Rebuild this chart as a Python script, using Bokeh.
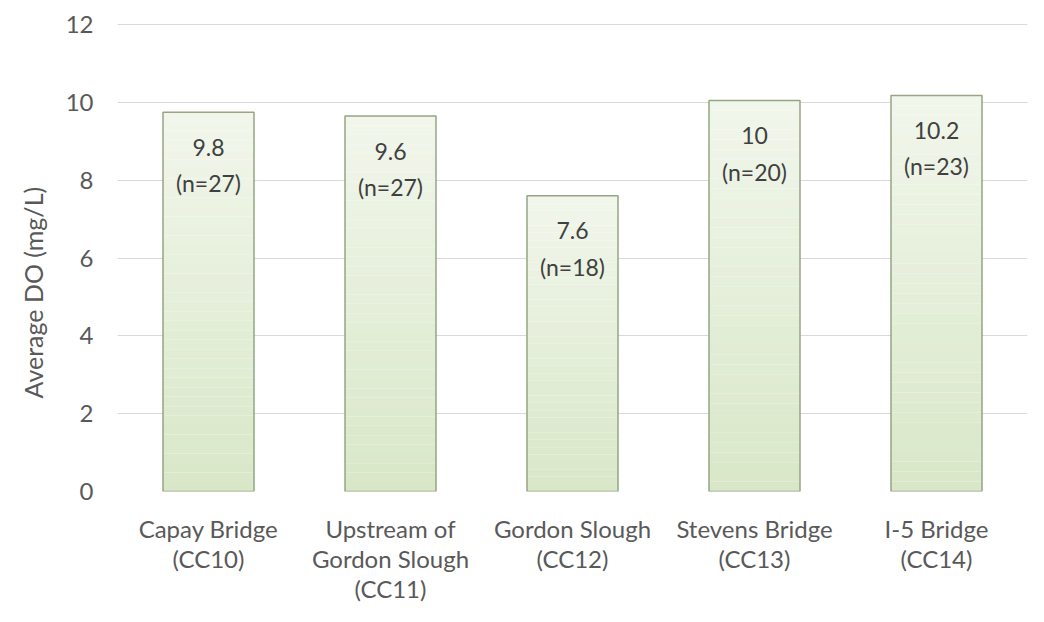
from bokeh.plotting import figure
from bokeh.models import ColumnDataSource, FixedTicker, Range1d, Title
from bokeh.core.properties import value
from bokeh.embed import file_html
from bokeh.resources import INLINE

categories = ["Capay Bridge\n(CC10)", "Upstream of\nGordon Slough\n(CC11)",
              "Gordon Slough\n(CC12)", "Stevens Bridge\n(CC13)", "I-5 Bridge\n(CC14)"]
avg_do = [9.75, 9.65, 7.6, 10.05, 10.18]
value_labels = ["9.8", "9.6", "7.6", "10", "10.2"]
n_samples = [27, 27, 18, 20, 23]
y_ticks = [0, 2, 4, 6, 8, 10, 12]
y_title = "Average DO (mg/L)"

FONT = "Lato"

p = figure(x_range=categories, y_range=Range1d(0, 12.03), width=1028, height=606,
           output_backend="svg", toolbar_location=None,
           min_border_left=117, min_border_right=1, min_border_top=23, min_border_bottom=110)
p.outline_line_color = None

# gradient fill via slices (top lighter, bottom darker)
N = 40
top_c = (0xF1, 0xF6, 0xEB)
bot_c = (0xD9, 0xE7, 0xC8)
xs, bots, tops, cols = [], [], [], []
for cat, v in zip(categories, avg_do):
    for k in range(N):
        t = k / (N - 1)
        r = [round(bot_c[i] + (top_c[i] - bot_c[i]) * t) for i in range(3)]
        xs.append(cat)
        bots.append(v * k / N)
        tops.append(v * (k + 1) / N)
        cols.append("#%02x%02x%02x" % tuple(r))
p.vbar(x=xs, bottom=bots, top=tops, width=0.5, fill_color=cols, line_color=None)
p.vbar(x=categories, top=avg_do, width=0.5, fill_color=None,
       line_color="#95a585", line_width=1.5)

src = ColumnDataSource(dict(x=categories, y=avg_do, v=value_labels,
                            n=["(n=%d)" % n for n in n_samples]))
p.text(x="x", y="y", text="v", source=src, y_offset=35, text_align="center",
       text_baseline="middle", text_font=value(FONT), text_font_size="23px",
       text_color="#404040")
p.text(x="x", y="y", text="n", source=src, y_offset=71, text_align="center",
       text_baseline="middle", text_font=value(FONT), text_font_size="23px",
       text_color="#404040")

p.yaxis.ticker = FixedTicker(ticks=y_ticks)
p.ygrid.grid_line_color = "#d9d9d9"
p.ygrid.grid_line_width = 1.2
p.xgrid.grid_line_color = None

for ax in (p.xaxis, p.yaxis):
    ax.axis_line_color = None
    ax.major_tick_line_color = None
    ax.minor_tick_line_color = None
    ax.major_label_text_font = FONT
    ax.major_label_text_font_size = "24px"
    ax.major_label_text_color = "#595959"
    ax.major_label_text_font_style = "normal"

p.yaxis.major_label_standoff = 18
p.xaxis.major_label_standoff = 16
p.xaxis.major_label_text_line_height = 1.05
p.x_range.range_padding = 0.0

p.add_layout(Title(text=y_title, align="left", offset=93, standoff=29,
                   text_font=FONT, text_font_size="25px", text_font_style="normal",
                   text_color="#595959"), "left")

open("out.html", "w").write(file_html(p, INLINE))
